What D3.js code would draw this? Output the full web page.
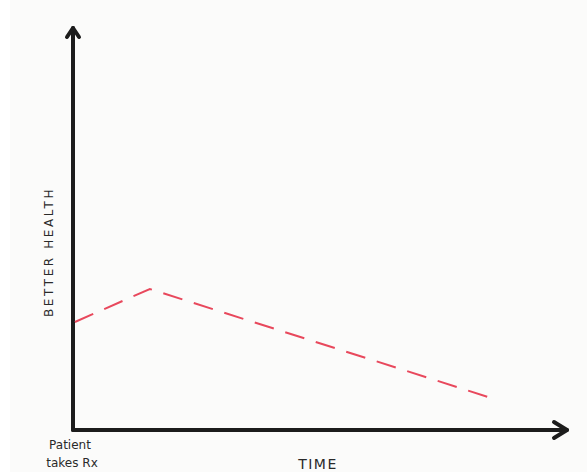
<!DOCTYPE html>
<html>
<head>
<meta charset="utf-8">
<script src="https://cdn.jsdelivr.net/npm/d3@7"></script>
<style>
html,body{margin:0;padding:0;background:#ffffff;}
svg{display:block;}
</style>
</head>
<body>
<svg id="chart" width="587" height="472"></svg>
<script>
// Data
const times = [0.4, 16, 86.5];
const health = [27, 35.25, 8.25];
const xLabel = "TIME";
const yLabel = "BETTER HEALTH";
const originLabel = ["Patient", "takes Rx"];

const W = 587, H = 472;
const svg = d3.select("#chart");

// paper
svg.append("rect").attr("x", 0).attr("y", 0).attr("width", W).attr("height", H).attr("fill", "#ffffff");
svg.append("rect").attr("x", 10).attr("y", 0).attr("width", W - 10).attr("height", H).attr("fill", "#fbfbfa");

const x = d3.scaleLinear().domain([0, 100]).range([73, 553]);
const y = d3.scaleLinear().domain([0, 100]).range([430, 30]);

const ink = "#1c1c1c";
const axes = svg.append("g").attr("stroke", ink).attr("fill", "none")
  .attr("stroke-linecap", "round").attr("stroke-linejoin", "round");

// y axis
const yTop = y(100) - 2;
axes.append("line").attr("x1", x(0)).attr("x2", x(0)).attr("y1", y(0)).attr("y2", yTop).attr("stroke-width", 4);
axes.append("path").attr("d", `M${x(0) - 6},${yTop + 9} L${x(0)},${yTop} L${x(0) + 6},${yTop + 9}`).attr("stroke-width", 4);

// x axis
const xEnd = x(100) + 14;
axes.append("line").attr("x1", x(0)).attr("x2", xEnd).attr("y1", y(0)).attr("y2", y(0)).attr("stroke-width", 4);
axes.append("path").attr("d", `M${xEnd - 13},${y(0) - 8} L${xEnd},${y(0)} L${xEnd - 13},${y(0) + 8}`).attr("stroke-width", 4);

// red dashed line
const line = d3.line().x((d, i) => x(times[i])).y(d => y(d));
svg.append("path").datum(health).attr("d", line)
  .attr("fill", "none").attr("stroke", "#e8485c").attr("stroke-width", 2)
  .attr("stroke-dasharray", "20,12").attr("stroke-dashoffset", 0);

// labels
const font = "'DejaVu Sans', sans-serif";
svg.append("text").attr("transform", `translate(53,252) rotate(-90)`)
  .attr("text-anchor", "middle").attr("font-family", font).attr("font-size", 12)
  .attr("letter-spacing", 2.6).attr("fill", "#2a2a2a").text(yLabel);

svg.append("text").attr("x", 318).attr("y", 469).attr("text-anchor", "middle")
  .attr("font-family", font).attr("font-size", 14).attr("letter-spacing", 1.5)
  .attr("fill", "#2a2a2a").text(xLabel);

svg.append("text").attr("x", 70).attr("y", 449).attr("text-anchor", "middle")
  .attr("font-family", font).attr("font-size", 12).attr("fill", "#2a2a2a").text(originLabel[0]);
svg.append("text").attr("x", 72).attr("y", 467).attr("text-anchor", "middle")
  .attr("font-family", font).attr("font-size", 12).attr("fill", "#2a2a2a").text(originLabel[1]);
</script>
</body>
</html>
